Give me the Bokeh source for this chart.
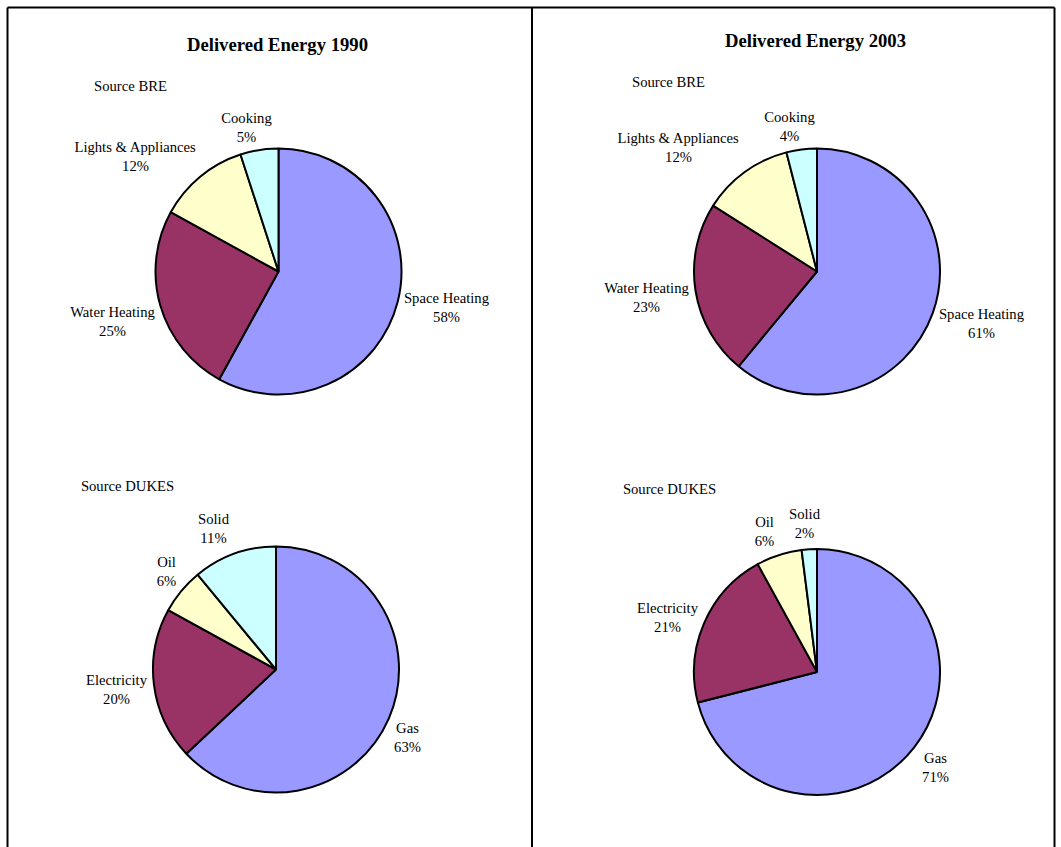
import math
from bokeh.plotting import figure
from bokeh.models import Range1d, ColumnDataSource
from bokeh.embed import file_html
from bokeh.resources import INLINE
from bokeh.core.properties import value

W, H = 1061, 847

# ---------------- data ----------------
titles = ["Delivered Energy 1990", "Delivered Energy 2003"]
source_notes = ["Source BRE", "Source BRE", "Source DUKES", "Source DUKES"]

end_use_labels = ["Space Heating", "Water Heating", "Lights & Appliances", "Cooking"]
end_use_1990 = [58, 25, 12, 5]
end_use_2003 = [61, 23, 12, 4]

fuel_labels = ["Gas", "Electricity", "Oil", "Solid"]
fuel_1990 = [63, 20, 6, 11]
fuel_2003 = [71, 21, 6, 2]

slice_colors = ["#9999FF", "#993366", "#FFFFCC", "#CCFFFF"]

# ---------------- layout (pixel positions, y downward) ----------------
R = 123
pies = [
    dict(c=(278, 271), labels=end_use_labels, values=end_use_1990,
         lab=[(446, 297), (112, 311), (135, 146), (246, 117)], src=(130, 85)),
    dict(c=(816.5, 271), labels=end_use_labels, values=end_use_2003,
         lab=[(981, 313), (646, 287), (678, 137), (789, 116)], src=(668, 81)),
    dict(c=(275.5, 669), labels=fuel_labels, values=fuel_1990,
         lab=[(407, 727), (116, 679), (166, 561), (213, 518)], src=(127, 485)),
    dict(c=(816.5, 671.5), labels=fuel_labels, values=fuel_2003,
         lab=[(935, 757), (667, 607), (764, 521), (804, 513)], src=(669, 488)),
]
title_pos = [(277, 43.5), (815, 40)]
LINE_GAP = 19

FONT = value("Liberation Serif")


def Y(py):
    return H - py


p = figure(width=W, height=H, output_backend="svg", toolbar_location=None,
           x_range=Range1d(0, W), y_range=Range1d(0, H),
           x_axis_location=None, y_axis_location=None,
           min_border=0, outline_line_color=None,
           background_fill_color="white", border_fill_color="white")
p.grid.grid_line_color = None

# frame lines
p.segment(x0=[7, 7, 531.5, 1054], y0=[Y(7), Y(7), Y(7), Y(7)],
          x1=[1054, 7, 531.5, 1054], y1=[Y(7), Y(H), Y(H), Y(H)],
          line_color="black", line_width=2)

for pie in pies:
    vals = pie["values"]
    total = float(sum(vals))
    starts, ends = [], []
    cum = 0.0
    for v in vals:
        starts.append(math.pi / 2 - 2 * math.pi * cum / total)
        cum += v
        ends.append(math.pi / 2 - 2 * math.pi * cum / total)
    cx, cy = pie["c"]
    src = ColumnDataSource(dict(x=[cx] * len(vals), y=[Y(cy)] * len(vals),
                                start=starts, end=ends, color=slice_colors))
    p.wedge(x="x", y="y", radius=R, start_angle="start", end_angle="end",
            direction="clock", fill_color="color", line_color="black",
            line_width=2, source=src)

    lx = [q[0] for q in pie["lab"]]
    ly = [Y(q[1]) for q in pie["lab"]]
    ly2 = [Y(q[1] + LINE_GAP) for q in pie["lab"]]
    tsrc = ColumnDataSource(dict(x=lx + lx, y=ly + ly2,
                                 text=list(pie["labels"]) + [f"{v}%" for v in vals]))
    p.text(x="x", y="y", text="text", source=tsrc, text_font=FONT,
           text_font_size="14.67px", text_align="center",
           text_baseline="middle", text_color="black")

note_src = ColumnDataSource(dict(x=[pie["src"][0] for pie in pies],
                                 y=[Y(pie["src"][1]) for pie in pies],
                                 text=source_notes))
p.text(x="x", y="y", text="text", source=note_src, text_font=FONT,
       text_font_size="14.67px", text_align="center", text_baseline="middle",
       text_color="black")

title_src = ColumnDataSource(dict(x=[t[0] for t in title_pos],
                                  y=[Y(t[1]) for t in title_pos],
                                  text=titles))
p.text(x="x", y="y", text="text", source=title_src, text_font=FONT,
       text_font_size="18.67px", text_font_style="bold", text_align="center",
       text_baseline="middle", text_color="black")

open("out.html", "w").write(file_html(p, INLINE))
